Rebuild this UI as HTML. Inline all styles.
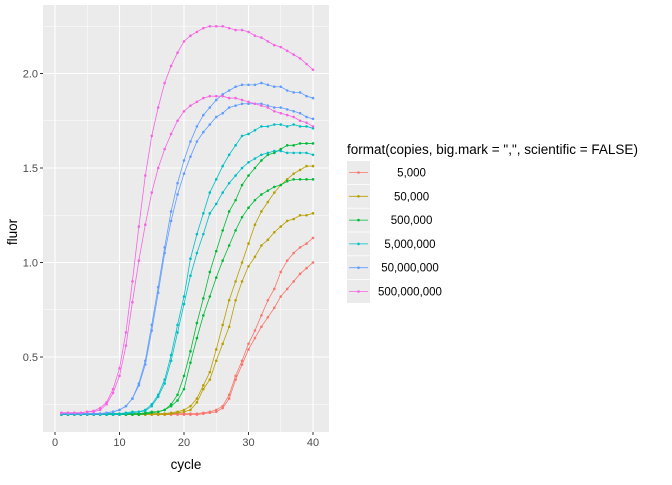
<!DOCTYPE html>
<html><head><meta charset="utf-8"><style>
body{margin:0;background:#fff;font-family:"Liberation Sans",sans-serif}
</style></head><body>
<svg id="c" width="672" height="480" xmlns="http://www.w3.org/2000/svg"></svg>
<script>
const cycles = Array.from({length:40},(_,i)=>i+1);
const seriesLabels = ["5,000","50,000","500,000","5,000,000","50,000,000","500,000,000"];
const seriesColors = ["#F8766D","#B79F00","#00BA38","#00BFC4","#619CFF","#F564E3"];
const s5kA = [0.20,0.20,0.20,0.20,0.20,0.20,0.20,0.20,0.20,0.20,0.20,0.20,0.20,0.20,0.20,0.20,0.20,0.20,0.20,0.20,0.20,0.20,0.205,0.21,0.22,0.24,0.30,0.40,0.48,0.57,0.64,0.72,0.80,0.86,0.95,1.01,1.05,1.08,1.10,1.13];
const s5kB = [0.195,0.195,0.195,0.195,0.195,0.195,0.195,0.195,0.195,0.195,0.195,0.195,0.195,0.195,0.195,0.195,0.195,0.195,0.195,0.195,0.195,0.195,0.20,0.205,0.21,0.23,0.28,0.38,0.46,0.54,0.60,0.66,0.71,0.76,0.82,0.86,0.90,0.94,0.97,1.00];
const s50kA = [0.20,0.20,0.20,0.20,0.20,0.20,0.20,0.20,0.20,0.20,0.20,0.20,0.20,0.20,0.20,0.20,0.20,0.205,0.21,0.22,0.24,0.28,0.35,0.42,0.54,0.67,0.80,0.90,1.00,1.10,1.20,1.27,1.32,1.37,1.41,1.44,1.47,1.49,1.51,1.51];
const s50kB = [0.195,0.195,0.195,0.195,0.195,0.195,0.195,0.195,0.195,0.195,0.195,0.195,0.195,0.195,0.195,0.195,0.195,0.20,0.205,0.21,0.22,0.26,0.33,0.38,0.48,0.57,0.66,0.80,0.90,0.98,1.03,1.09,1.12,1.16,1.19,1.22,1.23,1.25,1.25,1.26];
const s500kA = [0.20,0.20,0.20,0.20,0.20,0.20,0.20,0.20,0.20,0.20,0.20,0.20,0.20,0.205,0.21,0.21,0.22,0.25,0.30,0.40,0.53,0.68,0.81,0.95,1.06,1.17,1.27,1.33,1.41,1.46,1.50,1.54,1.57,1.58,1.60,1.62,1.62,1.63,1.63,1.63];
const s500kB = [0.195,0.195,0.195,0.195,0.195,0.195,0.195,0.195,0.195,0.195,0.195,0.195,0.195,0.20,0.205,0.21,0.22,0.24,0.27,0.33,0.47,0.60,0.72,0.82,0.92,1.01,1.09,1.17,1.24,1.29,1.33,1.36,1.38,1.40,1.41,1.43,1.44,1.44,1.44,1.44];
const s5mA = [0.20,0.20,0.20,0.20,0.20,0.20,0.20,0.20,0.20,0.20,0.205,0.21,0.21,0.22,0.25,0.30,0.38,0.51,0.67,0.82,1.02,1.15,1.26,1.37,1.44,1.51,1.57,1.62,1.67,1.68,1.70,1.72,1.72,1.73,1.73,1.72,1.73,1.72,1.72,1.71];
const s5mB = [0.195,0.195,0.195,0.195,0.195,0.195,0.195,0.195,0.195,0.195,0.20,0.205,0.21,0.215,0.24,0.29,0.36,0.48,0.63,0.78,0.93,1.05,1.15,1.26,1.31,1.37,1.42,1.46,1.50,1.53,1.55,1.57,1.58,1.59,1.59,1.58,1.58,1.58,1.58,1.57];
const s50mA = [0.20,0.20,0.20,0.20,0.20,0.20,0.20,0.205,0.21,0.22,0.24,0.28,0.36,0.48,0.67,0.87,1.08,1.27,1.42,1.54,1.64,1.72,1.78,1.82,1.86,1.89,1.91,1.93,1.94,1.94,1.94,1.95,1.94,1.93,1.93,1.91,1.90,1.90,1.88,1.87];
const s50mB = [0.20,0.20,0.20,0.20,0.20,0.20,0.20,0.205,0.21,0.22,0.24,0.28,0.35,0.46,0.64,0.84,1.05,1.22,1.36,1.47,1.56,1.64,1.69,1.73,1.77,1.79,1.82,1.83,1.84,1.84,1.84,1.84,1.83,1.82,1.82,1.81,1.80,1.79,1.77,1.76];
const s500mA = [0.205,0.205,0.205,0.205,0.21,0.215,0.23,0.26,0.33,0.44,0.63,0.90,1.19,1.46,1.67,1.82,1.95,2.04,2.11,2.17,2.20,2.22,2.24,2.25,2.25,2.25,2.24,2.23,2.23,2.22,2.20,2.19,2.17,2.15,2.14,2.12,2.10,2.08,2.05,2.02];
const s500mB = [0.205,0.205,0.205,0.205,0.21,0.21,0.22,0.25,0.31,0.40,0.56,0.79,1.01,1.20,1.37,1.50,1.60,1.68,1.75,1.80,1.83,1.85,1.87,1.88,1.88,1.88,1.87,1.87,1.86,1.85,1.84,1.83,1.82,1.80,1.79,1.78,1.77,1.75,1.74,1.72];
const seriesData = [[s5kA,s5kB],[s50kA,s50kB],[s500kA,s500kB],[s5mA,s5mB],[s50mA,s50mB],[s500mA,s500mB]];
const xTicks = [0,10,20,30,40];
const yTicks = [0.5,1.0,1.5,2.0];

const NS="http://www.w3.org/2000/svg", svg=document.getElementById('c');
const P={l:43,r:329,t:5,b:432};
const X=v=>55+(v)*(313-55)/40;
const Y=v=>357-(v-0.5)*189;
function mk(t,a,p){const e=document.createElementNS(NS,t);for(const k in a)e.setAttribute(k,a[k]);(p||svg).appendChild(e);return e;}
const bg=mk('rect',{x:P.l,y:P.t,width:P.r-P.l,height:P.b-P.t,fill:'#EBEBEB'});


for(let v=5;v<=45;v+=10){if(X(v)<P.r){const g=mk('line',{x1:X(v),x2:X(v),y1:P.t,y2:P.b,stroke:'#fff','stroke-width':0.5});}}
for(const v of [0.25,0.75,1.25,1.75,2.25]){const g=mk('line',{x1:P.l,x2:P.r,y1:Y(v),y2:Y(v),stroke:'#fff','stroke-width':0.5});}
xTicks.forEach(v=>{const g=mk('line',{x1:X(v),x2:X(v),y1:P.t,y2:P.b,stroke:'#fff','stroke-width':1.1});
 const t=mk('line',{x1:X(v),x2:X(v),y1:P.b,y2:P.b+3,stroke:'#333','stroke-width':1});
 const l=mk('text',{x:X(v),y:P.b+14,'text-anchor':'middle','font-size':'11',fill:'#4D4D4D'});l.textContent=v;});
yTicks.forEach(v=>{const g=mk('line',{x1:P.l,x2:P.r,y1:Y(v),y2:Y(v),stroke:'#fff','stroke-width':1.1});
 const t=mk('line',{x1:P.l-3,x2:P.l,y1:Y(v),y2:Y(v),stroke:'#333','stroke-width':1});
 const l=mk('text',{x:P.l-5,y:Y(v)+4,'text-anchor':'end','font-size':'11',fill:'#4D4D4D'});l.textContent=v.toFixed(1);});
seriesData.forEach((pair,si)=>{pair.forEach((arr,ri)=>{
 const g=mk('g',{});
 const pl=mk('polyline',{points:arr.map((v,i)=>X(cycles[i])+','+Y(v)).join(' '),fill:'none',stroke:seriesColors[si],'stroke-width':0.8},g);
 
 arr.forEach((v,i)=>{const c=mk('circle',{cx:X(cycles[i]),cy:Y(v),r:1.3,fill:seriesColors[si]},g);});
});});
const xt=mk('text',{x:186,y:469,'text-anchor':'middle','font-size':'13.5',fill:'#000'});xt.textContent='cycle';
const yt=mk('text',{x:0,y:0,'text-anchor':'middle','font-size':'13.5',fill:'#000',transform:'translate(17,232) rotate(-90)'});yt.textContent='fluor';
const lt=mk('text',{x:347,y:154,'font-size':'13.5',fill:'#000'});lt.textContent='format(copies, big.mark = ",", scientific = FALSE)';
seriesLabels.forEach((s,i)=>{const cy=172+i*23.8;
 const g=mk('g',{});
 mk('rect',{x:347,y:cy-11,width:23,height:23,fill:'#EBEBEB'},g);
 mk('line',{x1:349,x2:368,y1:cy+0.5,y2:cy+0.5,stroke:seriesColors[i],'stroke-width':0.8},g);
 mk('circle',{cx:358.5,cy:cy+0.5,r:1.3,fill:seriesColors[i]},g);
 const t=mk('text',{x:378,y:cy+4.5,'font-size':'11.5',fill:'#000','xml:space':'preserve',style:'white-space:pre'},g);t.textContent=s.padStart(11,' ');
});
</script>
</body></html>
